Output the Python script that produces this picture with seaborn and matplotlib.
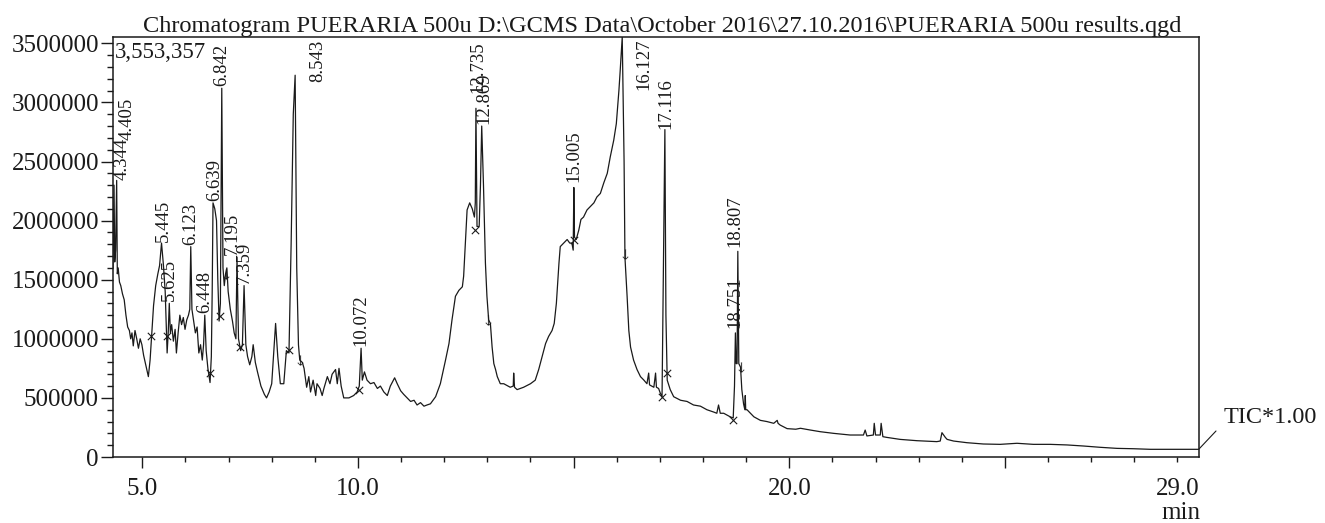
import numpy as np
import pandas as pd
import matplotlib
matplotlib.use("Agg")
import matplotlib.pyplot as plt
import seaborn as sns
from matplotlib.ticker import FixedLocator, MultipleLocator, FuncFormatter
from matplotlib.lines import Line2D

# TIC trace: retention time (min) / intensity (millions of counts)
ret_time = [
    4.32, 4.344, 4.36, 4.38, 4.405, 4.42, 4.44, 4.47, 4.50, 4.54, 4.58, 4.62, 4.66, 4.70, 4.73,
    4.76, 4.79, 4.83, 4.87, 4.91, 4.95, 4.99, 5.03, 5.08, 5.14, 5.18, 5.22, 5.26, 5.31, 5.36,
    5.40, 5.445, 5.49, 5.53, 5.56, 5.575, 5.60, 5.625, 5.65, 5.68, 5.72, 5.76, 5.79, 5.83, 5.87,
    5.91, 5.95, 5.99, 6.03, 6.07, 6.10, 6.123, 6.15, 6.19, 6.23, 6.27, 6.31, 6.35, 6.39, 6.42,
    6.448, 6.48, 6.52, 6.57, 6.60, 6.62, 6.639, 6.68, 6.72, 6.75, 6.78, 6.81, 6.842, 6.87, 6.90,
    6.93, 6.96, 6.99, 7.04, 7.09, 7.13, 7.17, 7.195, 7.23, 7.28, 7.32, 7.359, 7.40, 7.44, 7.49,
    7.54, 7.57, 7.62, 7.67, 7.75, 7.83, 7.88, 7.94, 8.00,
    8.04, 8.09, 8.14, 8.20, 8.28, 8.34, 8.40, 8.45, 8.50, 8.543, 8.58, 8.62, 8.65, 8.71, 8.75,
    8.81, 8.86, 8.90, 8.96, 9.02, 9.05, 9.12, 9.17, 9.21, 9.29, 9.35, 9.40, 9.48, 9.52, 9.56,
    9.61, 9.67, 9.79, 9.90, 9.98, 10.03, 10.072, 10.10, 10.15, 10.21, 10.29, 10.37, 10.45, 10.52,
    10.60, 10.68, 10.75, 10.85, 10.91, 10.99, 11.06, 11.14, 11.22, 11.30, 11.37, 11.45, 11.53,
    11.60, 11.68,
    11.80, 11.91, 12.03, 12.11, 12.18, 12.26, 12.34, 12.42, 12.45, 12.49, 12.53, 12.59, 12.65,
    12.70, 12.72, 12.735, 12.76, 12.81, 12.84, 12.869, 12.91, 12.955, 12.99, 13.03, 13.07, 13.11,
    13.15, 13.19, 13.23, 13.30, 13.38, 13.53, 13.60, 13.61, 13.63, 13.69, 13.84, 14.00, 14.11,
    14.19, 14.27, 14.35, 14.42, 14.50, 14.55, 14.60, 14.66, 14.69, 14.77, 14.85, 14.91, 14.96,
    14.99, 15.005, 15.02, 15.06, 15.12, 15.17, 15.23, 15.31, 15.39, 15.47, 15.54, 15.62, 15.70,
    15.78, 15.85, 15.93, 15.99, 16.05, 16.08, 16.127,
    16.17, 16.19, 16.24, 16.28, 16.32, 16.39, 16.47, 16.55, 16.63, 16.70, 16.74, 16.76, 16.86,
    16.90, 16.92, 16.97, 17.01, 17.05, 17.08, 17.116, 17.14, 17.17, 17.24, 17.32, 17.48, 17.63,
    17.78, 17.94, 18.09, 18.25, 18.32, 18.36, 18.40, 18.48, 18.63, 18.70, 18.73, 18.751, 18.77,
    18.79, 18.807, 18.83, 18.87, 18.90, 18.94, 18.97, 18.98, 18.99, 19.02, 19.10, 19.18, 19.33,
    19.48, 19.64, 19.72, 19.74, 19.79, 19.95, 20.15,
    20.26, 20.49, 20.72, 21.03, 21.41, 21.72, 21.76, 21.80, 21.95, 21.97, 22.00, 22.11, 22.13,
    22.17, 22.26, 22.57, 22.96, 23.42, 23.50, 23.54, 23.62, 23.66, 23.81, 24.12, 24.50, 24.89,
    25.28, 25.66, 26.05, 26.44, 26.82, 27.21, 27.60, 27.98, 28.37, 28.75, 29.14, 29.49,
]
tic_millions = [
    1.60, 2.30, 1.65, 1.75, 2.34, 1.55, 1.60, 1.48, 1.45, 1.38, 1.33, 1.20, 1.10, 1.07, 1.00,
    1.05, 0.94, 1.07, 1.00, 0.92, 1.00, 0.95, 0.86, 0.78, 0.68, 0.82, 1.05, 1.28, 1.45, 1.55,
    1.62, 1.81, 1.62, 1.40, 1.05, 0.88, 1.05, 1.30, 1.05, 1.12, 0.98, 1.08, 0.88, 1.05, 1.20,
    1.12, 1.18, 1.08, 1.16, 1.20, 1.25, 1.78, 1.25, 1.15, 1.05, 1.10, 0.88, 0.95, 0.82, 0.95,
    1.20, 0.90, 0.75, 0.63, 0.85, 1.40, 2.15, 2.10, 2.00, 1.50, 1.15, 1.30, 3.12, 1.60, 1.45,
    1.55, 1.60, 1.40, 1.25, 1.15, 1.05, 1.00, 1.69, 1.00, 0.90, 0.95, 1.45, 0.95, 0.85, 0.78,
    0.85, 0.95, 0.80, 0.72, 0.60, 0.53, 0.50, 0.55, 0.62,
    0.85, 1.13, 0.85, 0.62, 0.62, 0.90, 0.88, 1.80, 2.90, 3.23, 1.60, 0.95, 0.82, 0.80, 0.75,
    0.59, 0.68, 0.55, 0.65, 0.52, 0.62, 0.58, 0.52, 0.58, 0.68, 0.62, 0.70, 0.74, 0.62, 0.75,
    0.60, 0.50, 0.50, 0.52, 0.55, 0.60, 0.92, 0.65, 0.72, 0.65, 0.62, 0.63, 0.58, 0.60,
    0.55, 0.52, 0.60, 0.67, 0.62, 0.56, 0.53, 0.50, 0.47, 0.48, 0.44, 0.46, 0.43,
    0.44, 0.45,
    0.51, 0.62, 0.82, 0.96, 1.16, 1.36, 1.41, 1.44, 1.53, 1.81, 2.09, 2.15, 2.10,
    2.03, 2.15, 2.95, 1.95, 1.95, 2.30, 2.80, 2.30, 1.64, 1.36, 1.16, 1.13, 0.93,
    0.79, 0.74, 0.68, 0.62, 0.62, 0.59, 0.60, 0.71, 0.59, 0.57, 0.59, 0.62, 0.65,
    0.74, 0.85, 0.96, 1.02, 1.07, 1.13, 1.30, 1.64, 1.78, 1.81, 1.84, 1.81, 1.81,
    1.75, 2.28, 1.86, 1.84, 1.92, 2.01, 2.03, 2.09, 2.12, 2.15, 2.20, 2.23, 2.32,
    2.40, 2.54, 2.68, 2.82, 3.10, 3.27, 3.553357,
    2.50, 1.69, 1.36, 1.07, 0.93, 0.82, 0.74, 0.68, 0.65, 0.62, 0.71, 0.61, 0.59,
    0.71, 0.59, 0.58, 0.54, 0.51, 1.50, 2.77, 1.20, 0.65, 0.57, 0.51, 0.48, 0.47,
    0.44, 0.43, 0.40, 0.38, 0.37, 0.44, 0.37, 0.37, 0.34, 0.33, 0.60, 1.05, 0.79,
    0.79, 1.74, 0.79, 0.76, 0.57, 0.45, 0.40, 0.52, 0.40, 0.40, 0.37, 0.34, 0.31,
    0.30, 0.285, 0.31, 0.285, 0.27, 0.24, 0.235,
    0.243, 0.228, 0.214, 0.200, 0.186, 0.186, 0.228, 0.178, 0.186, 0.285, 0.186, 0.186, 0.285,
    0.172, 0.166, 0.149, 0.138, 0.130, 0.135, 0.206, 0.165, 0.149, 0.135, 0.121, 0.110, 0.107,
    0.116, 0.107, 0.107, 0.102, 0.093, 0.082, 0.073, 0.070, 0.065, 0.065, 0.065, 0.065,
]

# labelled peaks (retention time text) and apex heights (millions)
peak_labels = ["4.344", "4.405", "5.445", "5.625", "6.123", "6.448", "6.639", "6.842", "7.195",
               "7.359", "8.543", "10.072", "12.735", "12.869", "15.005", "16.127", "17.116",
               "18.751", "18.807"]
peak_heights = [2.30, 2.34, 1.81, 1.30, 1.78, 1.20, 2.15, 3.12, 1.69,
                1.45, 3.23, 0.92, 2.95, 2.80, 2.28, 3.553357, 2.77,
                1.05, 1.74]

# integration marks (x) and peak-top arrows
cross_time = [5.19, 5.57, 6.58, 6.81, 7.26, 8.40, 10.02, 12.71, 15.00, 17.05, 17.17, 18.70]
cross_height = [1.02, 1.02, 0.71, 1.19, 0.93, 0.905, 0.57, 1.92, 1.84, 0.51, 0.71, 0.31]
arrow_time = [6.95, 8.65, 13.02, 16.18, 18.87]
arrow_height = [1.55, 0.82, 1.16, 1.72, 0.76]

max_intensity = "3,553,357"
title = r"Chromatogram PUERARIA 500u D:\GCMS Data\October 2016\27.10.2016\PUERARIA 500u results.qgd"

# label offsets in points (dx, dy) where the software nudged them
label_offsets = {
    "4.344": (5.5, 3.6), "4.405": (7.6, 28.8), "5.445": (1.2, 1.0), "6.639": (1.4, 1.5),
    "7.195": (-3.2, 1.5), "8.543": (16.4, -5.0), "12.735": (1.1, 10.8), "12.869": (1.4, 1.5),
    "15.005": (0, 4.0), "16.127": (15.5, -38.0), "17.116": (0.7, 0.5), "18.751": (0, 3.6),
    "18.807": (-1.8, 2.9),
}

sns.set_style("ticks")
plt.rcParams['font.family'] = ['Liberation Serif', 'DejaVu Serif']
ink = "#1a1a1a"

W, H = 1325, 523
fig = plt.figure(figsize=(W / 100, H / 100), dpi=100)
ax = fig.add_axes([113 / W, 66 / H, 1086 / W, 420 / H])

df = pd.DataFrame({"time": ret_time, "tic": np.array(tic_millions) * 1e6})
sns.lineplot(data=df, x="time", y="tic", ax=ax, color=ink, linewidth=0.9,
             estimator=None, sort=False)

marks = pd.DataFrame({"time": cross_time, "tic": np.array(cross_height) * 1e6})
sns.scatterplot(data=marks, x="time", y="tic", ax=ax, marker="x", s=28,
                color=ink, linewidth=0.8, legend=False)
arrows = pd.DataFrame({"time": arrow_time, "tic": np.array(arrow_height) * 1e6})
sns.scatterplot(data=arrows, x="time", y="tic", ax=ax, marker=r"$\downarrow$", s=60,
                color=ink, linewidth=0.3, legend=False)

for lab, h in zip(peak_labels, peak_heights):
    dx, dy = label_offsets.get(lab, (0, 1.5))
    ax.annotate(lab, xy=(float(lab), h * 1e6), xytext=(dx, dy), textcoords="offset points",
                rotation=90, ha="center", va="bottom", fontsize=13.5, color=ink,
                annotation_clip=False)

ax.set_xlim(4.32, 29.5)
ax.set_ylim(0, 3553357)
ax.set_xlabel("")
ax.set_ylabel("")

ax.set_xticks([5, 10, 15, 20, 25], labels=["5.0", "10.0", "", "20.0", ""])
ax.xaxis.set_minor_locator(FixedLocator(list(range(5, 30))))
ax.xaxis.set_minor_formatter(FuncFormatter(lambda v, p: "29.0" if abs(v - 29) < 1e-6 else ""))
yt = list(range(0, 3500001, 500000))
ax.set_yticks(yt, labels=[str(v) for v in yt])
ax.yaxis.set_minor_locator(MultipleLocator(100000))

ax.tick_params(axis="x", which="major", direction="out", length=8, width=1, pad=7.2,
               labelsize=18, colors=ink)
ax.tick_params(axis="x", which="minor", direction="out", length=3.6, width=1, pad=11.5,
               labelsize=18, colors=ink)
ax.tick_params(axis="y", which="major", direction="out", length=8.6, width=1, pad=1.5,
               labelsize=18, colors=ink)
ax.tick_params(axis="y", which="minor", direction="out", length=4.3, width=1, colors=ink)
for s in ax.spines.values():
    s.set_visible(True)
    s.set_linewidth(1.1)
    s.set_color(ink)

ax.text(0.002, 0.988, max_intensity, transform=ax.transAxes, ha="left", va="top",
        fontsize=16.5, color=ink)

fig.text(662 / W, 1 - 31.7 / H, title, ha="center", va="baseline", fontsize=17.6, color=ink)
fig.text(1181 / W, 1 - 519 / H, "min", ha="center", va="baseline", fontsize=18, color=ink)
fig.text(1224 / W, 1 - 423 / H, "TIC*1.00", ha="left", va="baseline", fontsize=17.5, color=ink)
fig.add_artist(Line2D([1199 / W, 1216 / W], [1 - 449 / H, 1 - 431 / H],
                      transform=fig.transFigure, color=ink, linewidth=0.8))

fig.savefig("out.png", dpi=100)
